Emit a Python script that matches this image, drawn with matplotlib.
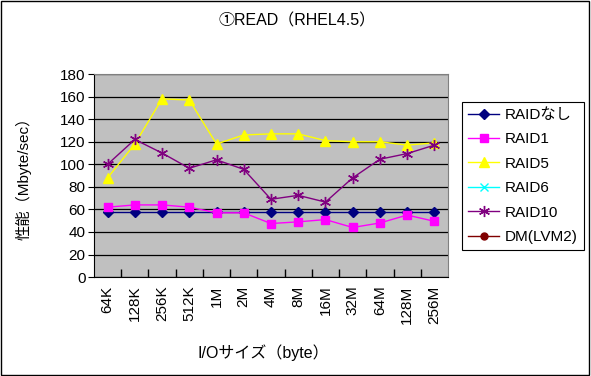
import matplotlib.pyplot as plt
import numpy as np

plt.rcParams['font.family'] = ['Liberation Sans', 'Noto Sans CJK JP', 'DejaVu Sans']

sizes = ['64K', '128K', '256K', '512K', '1M', '2M', '4M', '8M',
         '16M', '32M', '64M', '128M', '256M']

raid_none = [58, 58, 58, 58, 58, 58, 58, 58, 58, 58, 58, 58, 58]
raid1 = [62, 64, 64, 62, 57, 57, 47.5, 49, 51, 44, 48, 55, 49.5]
raid5 = [88, 118, 158, 157, 118, 126, 127, 127, 121, 120, 120, 117, 119]
raid6 = []
raid10 = [100, 122, 110, 96.5, 104, 95.5, 69, 72.5, 66.5, 88, 104.5, 109.5, 117]
dm = []

fig = plt.figure(figsize=(5.91, 3.76), dpi=100)
# outer frame of the chart
fig.patches.append(plt.Rectangle((0.002, 0.003), 0.995, 0.994, transform=fig.transFigure,
                                 fill=False, edgecolor='black', linewidth=1))

ax = fig.add_axes([0.159, 0.263, 0.599, 0.540])
ax.set_facecolor('#C0C0C0')

x = np.arange(len(sizes))
ax.plot(x, raid_none, color='#000080', marker='D', markersize=5, linewidth=1, label='RAIDなし')
ax.plot(x, raid1, color='#FF00FF', marker='s', markersize=6, linewidth=1, label='RAID1')
ax.plot(x, raid5, color='#FFFF00', marker='^', markersize=7, linewidth=1, label='RAID5')
ax.plot(raid6, raid6, color='#00FFFF', marker='x', markersize=6, linewidth=1, label='RAID6')
ax.plot(x, raid10, color='#800080', marker=(6, 2, 0), markersize=8, linewidth=1,
        markeredgewidth=1, label='RAID10')
ax.plot(dm, dm, color='#800000', marker='o', markersize=5, linewidth=1, label='DM(LVM2)')

ax.set_xlim(-0.5, len(sizes) - 0.5)
ax.set_ylim(0, 180)
ax.set_yticks(range(0, 181, 20))
ax.yaxis.grid(True, color='black', linewidth=0.9)
ax.set_axisbelow(True)

ax.set_xticks(x)
ax.set_xticklabels(sizes, rotation=90, fontsize=11)
ax.set_xticks(np.arange(0.5, len(sizes) - 1, 1), minor=True)
ax.tick_params(axis='x', which='major', length=0, pad=6)
ax.tick_params(axis='x', which='minor', direction='in', length=6, width=1)
ax.tick_params(axis='y', labelsize=11, length=4, pad=2)

for side in ['top', 'right']:
    ax.spines[side].set_color('#808080')
for side in ['left', 'bottom']:
    ax.spines[side].set_color('black')

fig.text(0.503, 0.945, '①READ（RHEL4.5）', ha='center', va='center', fontsize=11.5)
fig.text(0.039, 0.535, '性能（Mbyte/sec）', ha='center', va='center', rotation=90, fontsize=11)
fig.text(0.445, 0.062, 'I/Oサイズ（byte）', ha='center', va='center', fontsize=11.5)

leg = fig.legend(loc='upper left', bbox_to_anchor=(0.782, 0.729), fontsize=11,
                 fancybox=False, edgecolor='black', framealpha=1, borderpad=0.4,
                 labelspacing=0.68, handlelength=2.0, handletextpad=0.4, borderaxespad=0)
leg.get_frame().set_linewidth(0.8)

plt.savefig('out.png', dpi=100)
